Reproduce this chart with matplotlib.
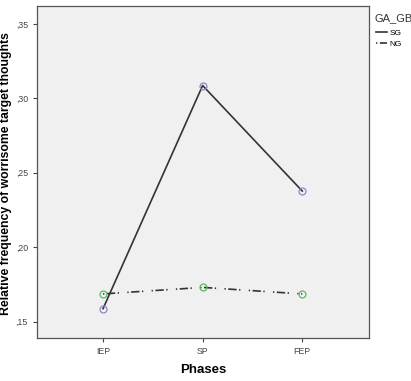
import numpy as np
import matplotlib.pyplot as plt

plt.rcParams['font.family'] = ['Liberation Sans', 'DejaVu Sans']

phases = ["IEP", "SP", "FEP"]
sg = [0.1587, 0.3086, 0.2377]
ng = [0.1686, 0.1730, 0.1686]
yticks = [0.15, 0.20, 0.25, 0.30, 0.35]
ytick_labels = [",15", ",20", ",25", ",30", ",35"]

fig = plt.figure(figsize=(4.11, 3.81), dpi=100)
ax = fig.add_axes([37/411, 1 - 338/381, 332/411, 332/381])
ax.set_facecolor("#f0f0f0")

x = np.arange(1, len(phases) + 1)

ax.plot(x, sg, color="#333333", lw=1.2, label="SG", zorder=2)
ax.plot(x, sg, 'o', mfc="none", mec="#8a8ac8", ms=5, mew=0.9, zorder=3)

ax.plot(x, ng, color="#333333", lw=1.2, label="NG", zorder=2,
        dashes=(0.8, 1.5, 5, 1.5, 0.8, 5))
ax.plot(x, ng, 'o', mfc="none", mec="#5cb85c", ms=5, mew=0.9, zorder=3)

ax.set_xlim(0.337, 3.67)
ax.set_ylim(0.139, 0.362)
ax.set_xticks(x)
ax.set_xticklabels(phases)
ax.set_yticks(yticks)
ax.set_yticklabels(ytick_labels)
ax.tick_params(labelsize=6.3, colors="#444444", length=3, width=0.8)
for s in ax.spines.values():
    s.set_color("#555555")
    s.set_linewidth(0.9)

ax.set_xlabel("Phases", fontsize=9.5, fontweight="bold", labelpad=6)
ax.set_ylabel("Relative frequency of worrisome target thoughts", fontsize=8.8,
              fontweight="bold")
ax.yaxis.set_label_coords(-0.075, 0.494)

fig.text(374/411, 1 - 18/381, "GA_GB", fontsize=8, color="#333333",
         va="center", ha="left")
leg = fig.legend(handles=ax.lines[0::2], labels=["SG", "NG"],
                 loc="upper left", bbox_to_anchor=(376/411, 1 - 29/381),
                 frameon=False, fontsize=6,
                 handlelength=1.3, handletextpad=0.3, labelspacing=0.35,
                 borderaxespad=0, borderpad=0)

fig.savefig("out.png", dpi=100)
